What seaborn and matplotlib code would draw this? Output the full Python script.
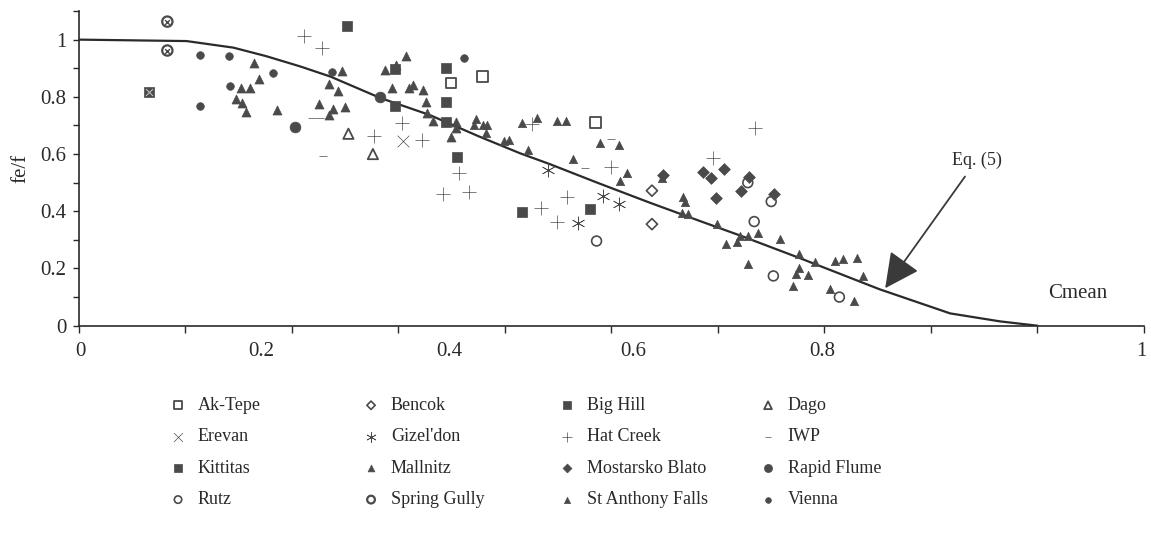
import numpy as np
import pandas as pd
import seaborn as sns
import matplotlib.pyplot as plt

# data (x = position along the Cmean axis, y = fe/f)
ak_tepe_x = [0.349, 0.379, 0.485]
ak_tepe_y = [0.848, 0.871, 0.710]
bencok_x = [0.538, 0.538]
bencok_y = [0.472, 0.355]
big_hill_x = [0.066]
big_hill_y = [0.818]
dago_x = [0.253, 0.276]
dago_y = [0.671, 0.600]
erevan_x = [0.304]
erevan_y = [0.646]
gizeldon_x = [0.440, 0.492, 0.507, 0.469]
gizeldon_y = [0.544, 0.453, 0.424, 0.358]
hat_creek_x = [0.211, 0.228, 0.303, 0.277, 0.322, 0.357, 0.342, 0.366,
               0.425, 0.500, 0.458, 0.434, 0.449, 0.595, 0.635]
hat_creek_y = [1.014, 0.970, 0.707, 0.663, 0.649, 0.535, 0.459, 0.469,
               0.705, 0.556, 0.451, 0.410, 0.362, 0.585, 0.692]
iwp_x = [0.219, 0.226, 0.229, 0.500, 0.475]
iwp_y = [0.725, 0.725, 0.593, 0.652, 0.550]
kittitas_x = [0.252, 0.297, 0.297, 0.345, 0.345, 0.345, 0.355, 0.416, 0.480]
kittitas_y = [1.046, 0.899, 0.768, 0.900, 0.781, 0.711, 0.589, 0.399, 0.407]
mallnitz_x = [0.164, 0.169, 0.152, 0.161, 0.147, 0.153, 0.157, 0.186, 0.225, 0.235,
              0.243, 0.247, 0.235, 0.239, 0.250, 0.287, 0.294, 0.298, 0.307, 0.310,
              0.314, 0.323, 0.326, 0.327, 0.332, 0.349, 0.354, 0.354]
mallnitz_y = [0.920, 0.862, 0.830, 0.831, 0.792, 0.778, 0.748, 0.754, 0.774, 0.844,
              0.821, 0.890, 0.736, 0.756, 0.764, 0.894, 0.832, 0.912, 0.944, 0.830,
              0.842, 0.824, 0.783, 0.743, 0.715, 0.659, 0.711, 0.691]
mostarsko_x = [0.548, 0.586, 0.593, 0.606, 0.598, 0.622, 0.629, 0.653]
mostarsko_y = [0.527, 0.537, 0.516, 0.547, 0.445, 0.471, 0.521, 0.459]
rapid_flume_x = [0.203, 0.283]
rapid_flume_y = [0.693, 0.798]
rutz_x = [0.486, 0.628, 0.650, 0.634, 0.652, 0.714]
rutz_y = [0.296, 0.500, 0.434, 0.364, 0.174, 0.100]
spring_gully_x = [0.083, 0.083]
spring_gully_y = [1.063, 0.962]
st_anthony_x = [0.373, 0.371, 0.379, 0.383, 0.382, 0.399, 0.404, 0.416, 0.430, 0.449,
                0.457, 0.422, 0.464, 0.489, 0.507, 0.515, 0.508, 0.547, 0.567, 0.569,
                0.566, 0.572, 0.599, 0.608, 0.618, 0.621, 0.628, 0.638, 0.658, 0.628,
                0.676, 0.676, 0.673, 0.685, 0.670, 0.691, 0.710, 0.717, 0.731, 0.736,
                0.705, 0.728]
st_anthony_y = [0.722, 0.702, 0.701, 0.702, 0.675, 0.645, 0.649, 0.707, 0.725, 0.717,
                0.715, 0.613, 0.582, 0.638, 0.632, 0.535, 0.507, 0.516, 0.451, 0.434,
                0.393, 0.392, 0.355, 0.286, 0.293, 0.314, 0.315, 0.325, 0.302, 0.215,
                0.250, 0.201, 0.181, 0.177, 0.139, 0.224, 0.226, 0.233, 0.236, 0.174,
                0.127, 0.087]
vienna_x = [0.114, 0.141, 0.142, 0.114, 0.182, 0.238, 0.362]
vienna_y = [0.947, 0.944, 0.838, 0.769, 0.885, 0.887, 0.937]

# Eq. (5) curve
eq5_x = [0.0, 0.101, 0.145, 0.176, 0.208, 0.236, 0.283, 0.329, 0.376, 0.414, 0.442,
         0.488, 0.536, 0.583, 0.621, 0.677, 0.752, 0.818, 0.865, 0.900]
eq5_y = [1.0, 0.995, 0.972, 0.942, 0.906, 0.871, 0.796, 0.737, 0.661, 0.603, 0.565,
         0.498, 0.430, 0.366, 0.315, 0.236, 0.127, 0.043, 0.015, 0.0]

# tick labels as they sit on the scanned axis
xtick_pos = [0.001, 0.171, 0.348, 0.520, 0.698, 0.998]
xtick_lab = ['0', '0.2', '0.4', '0.6', '0.8', '1']

sns.set_style('ticks')
plt.rcParams['font.family'] = ['Liberation Serif', 'DejaVu Serif']

DARK = '#4a4a4a'
LINE = '#2a2a2a'

fig = plt.figure(figsize=(11.51, 5.54), dpi=100)
ax = fig.add_axes([0.0686, 0.4121, 0.9253, 0.568])

# curve
sns.lineplot(x=eq5_x, y=eq5_y, ax=ax, color=LINE, lw=1.6, sort=False, estimator=None)

handles = {}

def pts(name, x, y, marker, s, filled=True, lw=1.0, color=DARK):
    if filled:
        sns.scatterplot(x=x, y=y, ax=ax, marker=marker, s=s, color=color,
                        edgecolor=color, linewidth=0.5, legend=False, zorder=3)
    else:
        sns.scatterplot(x=x, y=y, ax=ax, marker=marker, s=s, color=color,
                        facecolor='none', edgecolor=color, linewidth=lw,
                        legend=False, zorder=3)
    handles[name] = ax.collections[-1]

pts('Ak-Tepe', ak_tepe_x, ak_tepe_y, 's', 55, filled=False, lw=1.3)
pts('Bencok', bencok_x, bencok_y, 'D', 32, filled=False, lw=1.2)
pts('Big Hill', big_hill_x, big_hill_y, 's', 60)
sns.scatterplot(x=big_hill_x, y=big_hill_y, ax=ax, marker='x', s=25, color='#bbbbbb',
                linewidth=0.8, legend=False, zorder=4)
pts('Dago', dago_x, dago_y, '^', 55, filled=False, lw=1.3)
pts('Erevan', erevan_x, erevan_y, 'x', 70, lw=1.3)
pts('Gizel\'don', gizeldon_x, gizeldon_y, (6, 2, 0), 90, lw=1.6)
pts('Hat Creek', hat_creek_x, hat_creek_y, '+', 90, lw=1.2)
pts('IWP', iwp_x, iwp_y, '_', 28, lw=3.5)
pts('Kittitas', kittitas_x, kittitas_y, 's', 60)
pts('Mallnitz', mallnitz_x, mallnitz_y, '^', 42)
pts('Mostarsko Blato', mostarsko_x, mostarsko_y, 'D', 36)
pts('Rapid Flume', rapid_flume_x, rapid_flume_y, 'o', 60)
pts('Rutz', rutz_x, rutz_y, 'o', 50, filled=False, lw=1.2)
pts('Spring Gully', spring_gully_x, spring_gully_y, 'o', 55, filled=False, lw=1.6)
sns.scatterplot(x=spring_gully_x, y=spring_gully_y, ax=ax, marker='x', s=12, color=DARK,
                linewidth=1.0, legend=False, zorder=4)
pts('St Anthony Falls', st_anthony_x, st_anthony_y, '^', 36)
pts('Vienna', vienna_x, vienna_y, 'o', 30)

# axes
ax.set_xlim(0, 1)
ax.set_ylim(0, 1.1)
sns.despine(ax=ax)
for side in ['left', 'bottom']:
    ax.spines[side].set_color(LINE)
    ax.spines[side].set_linewidth(1.2)

ax.set_xticks(xtick_pos)
ax.set_xticklabels(xtick_lab, fontsize=15)
ax.set_xticks(np.linspace(0, 1, 11), minor=True)
ax.xaxis.remove_overlapping_locs = False
ax.tick_params(axis='x', which='major', length=0, pad=12, colors=LINE)
ax.tick_params(axis='x', which='minor', length=5, width=1, color=LINE)

ax.set_yticks([0, 0.2, 0.4, 0.6, 0.8, 1.0])
ax.set_yticklabels(['0', '0.2', '0.4', '0.6', '0.8', '1'], fontsize=15)
ax.set_yticks(np.linspace(0, 1.1, 12), minor=True)
ax.tick_params(axis='y', which='both', length=4, width=1, pad=5, colors=LINE)

ax.set_xlabel('')
ax.set_ylabel('fe/f', fontsize=15, color=LINE)
ax.yaxis.set_label_coords(-0.046, 0.5)

ax.text(0.938, 0.113, 'Cmean', fontsize=15, ha='center', va='center', color=LINE)
ax.annotate('Eq. (5)', xy=(0.757, 0.131), xytext=(0.843, 0.579), fontsize=13,
            ha='center', va='center', color=LINE,
            arrowprops=dict(arrowstyle='-|>,head_length=0.9,head_width=0.45',
                            mutation_scale=24, color='#3a3a3a', lw=1.3,
                            shrinkA=4, shrinkB=0))

# legend: 4 columns filled row by row in the scan
columns = [
    ['Ak-Tepe', 'Erevan', 'Kittitas', 'Rutz'],
    ['Bencok', 'Gizel\'don', 'Mallnitz', 'Spring Gully'],
    ['Big Hill', 'Hat Creek', 'Mostarsko Blato', 'St Anthony Falls'],
    ['Dago', 'IWP', 'Rapid Flume', 'Vienna'],
]
col_left = [169, 362, 558, 759]
for names, left in zip(columns, col_left):
    leg = fig.legend([handles[n] for n in names], names, loc='upper left',
                     bbox_to_anchor=(left / 1151, 1 - 397 / 554), frameon=False,
                     fontsize=13, markerscale=0.75, borderpad=0, borderaxespad=0,
                     handlelength=1.0, handletextpad=0.6, labelspacing=0.8)
    for t in leg.get_texts():
        t.set_color(LINE)

fig.savefig('out.png', dpi=100)
